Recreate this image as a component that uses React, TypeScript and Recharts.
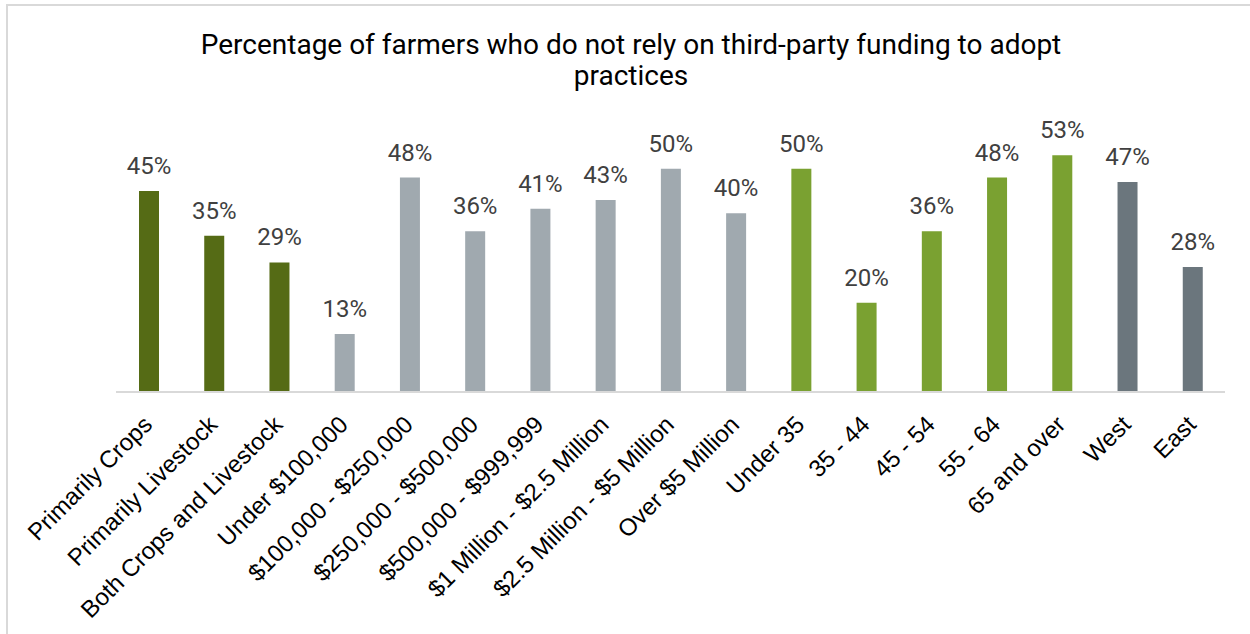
import React from "react";
import { BarChart, Bar, XAxis, YAxis, Cell, LabelList } from "recharts";

const categories = [
  "Primarily Crops",
  "Primarily Livestock",
  "Both Crops and Livestock",
  "Under $100,000",
  "$100,000 - $250,000",
  "$250,000 - $500,000",
  "$500,000 - $999,999",
  "$1 Million - $2.5 Million",
  "$2.5 Million - $5 Million",
  "Over $5 Million",
  "Under 35",
  "35 - 44",
  "45 - 54",
  "55 - 64",
  "65 and over",
  "West",
  "East",
];
const values = [45, 35, 29, 13, 48, 36, 41, 43, 50, 40, 50, 20, 36, 48, 53, 47, 28];
const groups = [0, 0, 0, 1, 1, 1, 1, 1, 1, 1, 2, 2, 2, 2, 2, 3, 3];
const groupColors = ["#556B15", "#A0A9AF", "#7AA131", "#6B767D"];

const data = categories.map((c, i) => ({ name: c, value: values[i], group: groups[i] }));

const Tick = (props: any) => {
  const { x, y, payload } = props;
  const ax = x - 1;
  const ay = y + 10;
  return (
    <text
      x={ax}
      y={ay}
      transform={`rotate(-45, ${ax}, ${ay})`}
      textAnchor="end"
      dominantBaseline="central"
      fontSize={24}
      fill="#000000"
      fontFamily="'Liberation Sans', Arial, sans-serif"
    >
      {payload.value}
    </text>
  );
};

export default function App() {
  return (
    <div style={{ position: "absolute", left: 0, top: 0, width: 1250, height: 634, background: "#fff", overflow: "hidden" }}>
      <div style={{ position: "absolute", left: 6, top: 4, width: 1244, height: 1.5, background: "#D9D9D9" }} />
      <div style={{ position: "absolute", left: 6, top: 4, width: 1.5, height: 630, background: "#D9D9D9" }} />
      <div
        style={{
          position: "absolute",
          left: 0,
          top: 29,
          width: 1262,
          textAlign: "center",
          fontFamily: "Roboto, sans-serif",
          fontSize: 28,
          lineHeight: "31px",
          color: "#000",
        }}
      >
        Percentage of farmers who do not rely on third-party funding to adopt
        <br />
        practices
      </div>
      <BarChart
        width={1250}
        height={634}
        data={data}
        margin={{ top: 124, right: 25, bottom: 0, left: 116 }}
        barSize={20}
        style={{ position: "absolute", left: 0, top: 0 }}
      >
        <XAxis
          dataKey="name"
          interval={0}
          height={242}
          tick={<Tick />}
          tickLine={false}
          tickMargin={12}
          axisLine={{ stroke: "#D9D9D9", strokeWidth: 2 }}
        />
        <YAxis hide domain={[0, 60]} width={0} />
        <Bar dataKey="value" isAnimationActive={false}>
          {data.map((d, i) => (
            <Cell key={i} fill={groupColors[d.group]} />
          ))}
          <LabelList
            dataKey="value"
            position="top"
            offset={17}
            formatter={(v: any) => `${v}%`}
            fill="#404040"
            fontSize={24}
            fontFamily="Roboto, sans-serif"
          />
        </Bar>
      </BarChart>
    </div>
  );
}
